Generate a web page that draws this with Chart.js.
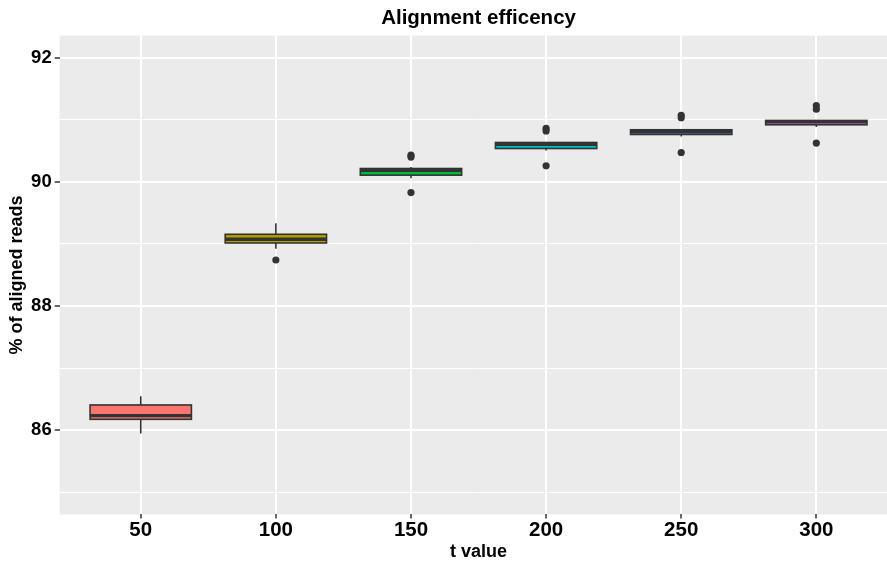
<!DOCTYPE html>
<html><head><meta charset="utf-8">
<script src="https://cdn.jsdelivr.net/npm/chart.js@4"></script>
<style>html,body{margin:0;background:#fff;overflow:hidden}canvas{display:block}</style>
</head><body>
<canvas id="c" width="901" height="564"></canvas>
<script>
// t values on the x axis and the five-number summaries of % aligned reads
const categories = ['50', '100', '150', '200', '250', '300'];
const whiskerLow  = [85.947, 88.924, 90.060, 90.505, 90.731, 90.882];
const q1          = [86.177, 89.016, 90.108, 90.537, 90.763, 90.919];
const median      = [86.237, 89.076, 90.185, 90.605, 90.806, 90.968];
const q3          = [86.408, 89.156, 90.215, 90.634, 90.839, 90.989];
const whiskerHigh = [86.548, 89.334, 90.240, 90.634, 90.839, 90.989];
const outliers = [
  [],
  [88.742],
  [90.430, 90.400, 89.827],
  [90.860, 90.820, 90.258],
  [91.073, 91.032, 90.473],
  [91.226, 91.169, 90.624]
];
const yTickValues = [86, 88, 90, 92];
const yMinorValues = [85, 87, 89, 91];

const fills = ['#F8766D', '#B79F00', '#00BA38', '#00BFC4', '#619CFF', '#F564E3'];
const BOX_WIDTH = 0.75;
const INK = '#333333';

Chart.defaults.font.family = "'Liberation Sans', Arial, sans-serif";
Chart.defaults.color = '#000';

const outlierPoints = [];
outliers.forEach((vals, i) => vals.forEach(v => outlierPoints.push({ x: i + 1, y: v })));

// grey panel behind the grid
const panelBackground = {
  id: 'panelBackground',
  beforeDraw(chart) {
    const { ctx, chartArea: a } = chart;
    ctx.save();
    ctx.fillStyle = '#fff';
    ctx.fillRect(0, 0, chart.width, chart.height);
    ctx.fillStyle = '#EBEBEB';
    ctx.fillRect(a.left, a.top, a.right - a.left, a.bottom - a.top);
    ctx.restore();
  }
};

// boxes, whiskers and medians placed through the chart's scales
const boxes = {
  id: 'boxes',
  beforeDatasetsDraw(chart) {
    const { ctx, chartArea: a } = chart;
    const xs = chart.scales.x, ys = chart.scales.y;
    ctx.save();
    ctx.beginPath();
    ctx.rect(a.left, a.top, a.right - a.left, a.bottom - a.top);
    ctx.clip();
    categories.forEach((c, i) => {
      const cx = xs.getPixelForValue(i + 1);
      const half = xs.getPixelForValue(i + 1 + BOX_WIDTH / 2) - cx;
      const yLo = ys.getPixelForValue(whiskerLow[i]);
      const yQ1 = ys.getPixelForValue(q1[i]);
      const yMed = ys.getPixelForValue(median[i]);
      const yQ3 = ys.getPixelForValue(q3[i]);
      const yHi = ys.getPixelForValue(whiskerHigh[i]);
      ctx.strokeStyle = INK;
      ctx.lineWidth = 1.6;
      ctx.beginPath();
      ctx.moveTo(cx, yHi); ctx.lineTo(cx, yQ3);
      ctx.moveTo(cx, yQ1); ctx.lineTo(cx, yLo);
      ctx.stroke();
      ctx.fillStyle = fills[i];
      ctx.fillRect(cx - half, yQ3, 2 * half, yQ1 - yQ3);
      ctx.strokeRect(cx - half, yQ3, 2 * half, yQ1 - yQ3);
      ctx.lineWidth = 3.4;
      ctx.beginPath();
      ctx.moveTo(cx - half, yMed); ctx.lineTo(cx + half, yMed);
      ctx.stroke();
    });
    ctx.restore();
  }
};

new Chart(document.getElementById('c'), {
  type: 'scatter',
  data: {
    datasets: [{
      data: outlierPoints,
      pointRadius: 3.6,
      pointHoverRadius: 3.6,
      backgroundColor: INK,
      borderWidth: 0
    }]
  },
  options: {
    responsive: false,
    devicePixelRatio: 1,
    animation: false,
    events: [],
    layout: { padding: { left: 1.5, right: 0, top: 0, bottom: 1 } },
    plugins: {
      legend: { display: false },
      tooltip: { enabled: false },
      title: {
        display: true,
        text: 'Alignment efficency',
        fullSize: false,
        color: '#000',
        font: { size: 20.5, weight: 'bold' },
        padding: { top: 6, bottom: 5 }
      }
    },
    scales: {
      x: {
        type: 'linear',
        min: 0.4,
        max: 6.6,
        afterBuildTicks(scale) {
          scale.ticks = categories.map((c, i) => ({ value: i + 1 }));
        },
        ticks: {
          callback: v => categories[v - 1],
          font: { size: 20.5, weight: 'bold', lineHeight: 1.06 },
          color: '#000',
          padding: 0.6,
          maxRotation: 0
        },
        grid: { color: '#FFFFFF', lineWidth: 2, tickColor: INK, tickLength: 4, tickWidth: 1.5 },
        border: { display: false },
        title: {
          display: true,
          text: 't value',
          color: '#000',
          font: { size: 18, weight: 'bold' },
          padding: { top: 0, bottom: 0 }
        }
      },
      y: {
        min: 84.645,
        max: 92.355,
        afterBuildTicks(scale) {
          scale.ticks = yMinorValues.concat(yTickValues).sort((a, b) => a - b).map(v => ({ value: v }));
        },
        ticks: {
          callback: v => (yTickValues.includes(v) ? String(v) : ''),
          font: { size: 18.5, weight: 'bold' },
          color: '#000',
          padding: 3
        },
        grid: {
          color: '#FFFFFF',
          lineWidth: c => (c.tick && yTickValues.includes(c.tick.value) ? 2 : 1),
          tickColor: c => (c.tick && yTickValues.includes(c.tick.value) ? INK : 'rgba(0,0,0,0)'),
          tickLength: 5,
          tickWidth: 1.5
        },
        border: { display: false },
        title: {
          display: true,
          text: '% of aligned reads',
          color: '#000',
          font: { size: 18, weight: 'bold' },
          padding: { top: 5, bottom: 0 }
        }
      }
    }
  },
  plugins: [panelBackground, boxes]
});
</script>
</body></html>
